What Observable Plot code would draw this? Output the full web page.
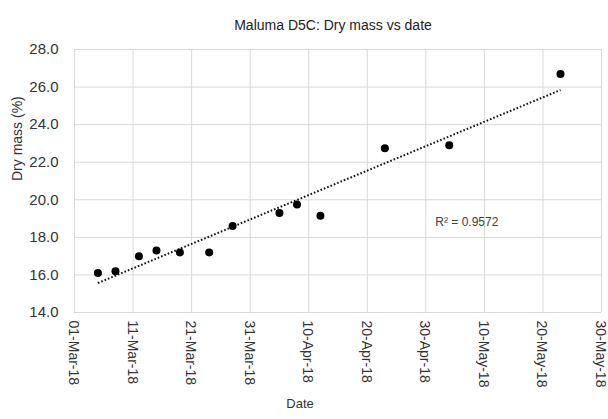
<!DOCTYPE html>
<html>
<head>
<meta charset="utf-8">
<script src="https://cdn.jsdelivr.net/npm/d3@7"></script>
<script src="https://cdn.jsdelivr.net/npm/@observablehq/plot@0.6"></script>
<style>
  html, body { margin: 0; padding: 0; background: #fff; }
  #chart svg { display: block; font-family: "Liberation Sans", Arial, sans-serif; }
</style>
</head>
<body>
<div id="chart"></div>
<script>
// Data
const dates = ["2018-03-05","2018-03-08","2018-03-12","2018-03-15","2018-03-19","2018-03-24","2018-03-28",
               "2018-04-05","2018-04-08","2018-04-12","2018-04-23","2018-05-04","2018-05-23"];
const dryMass = [16.1, 16.2, 17.0, 17.3, 17.2, 17.2, 18.6, 19.3, 19.75, 19.15, 22.75, 22.9, 26.7];
const xTickDates = ["2018-03-01","2018-03-11","2018-03-21","2018-03-31","2018-04-10",
                    "2018-04-20","2018-04-30","2018-05-10","2018-05-20","2018-05-30"];
const xTickLabels = ["01-Mar-18","11-Mar-18","21-Mar-18","31-Mar-18","10-Apr-18",
                     "20-Apr-18","30-Apr-18","10-May-18","20-May-18","30-May-18"];
const yTicks = [14, 16, 18, 20, 22, 24, 26, 28];
const titleText = "Maluma D5C: Dry mass vs date";
const xTitle = "Date";
const yTitle = "Dry mass (%)";
const r2Label = "R² = 0.9572";
const r2Pos = {date: "2018-05-07", value: 18.8};

const data = dates.map((d, i) => ({date: new Date(d), value: dryMass[i]}));
const xTicks = xTickDates.map(d => new Date(d));

const chart = Plot.plot({
  width: 608,
  height: 419,
  marginLeft: 74,
  marginRight: 7,
  marginTop: 49,
  marginBottom: 107,
  style: {fontFamily: "'Liberation Sans', Arial, sans-serif", fontSize: "14px", color: "#333", background: "#fff"},
  x: {type: "utc", domain: [xTicks[0], xTicks[xTicks.length - 1]]},
  y: {domain: [14, 28]},
  marks: [
    Plot.gridX(xTicks, {stroke: "#d9d9d9", strokeOpacity: 1, strokeWidth: 1}),
    Plot.gridY(yTicks, {stroke: "#d9d9d9", strokeOpacity: 1, strokeWidth: 1}),
    Plot.axisX(xTicks, {
      tickSize: 0, tickPadding: 8, tickRotate: 90,
      tickFormat: (d, i) => xTickLabels[i],
      label: null, fontSize: 14, fill: "#333", dx: -1
    }),
    Plot.axisY(yTicks, {
      tickSize: 0, tickPadding: 16, tickFormat: d => d.toFixed(1),
      label: null, fontSize: 15, fill: "#333"
    }),
    Plot.linearRegressionY(data, {x: "date", y: "value", ci: 0, stroke: "#111", strokeWidth: 2, strokeDasharray: "1.6,2", strokeLinecap: "butt"}),
    Plot.dot(data, {x: "date", y: "value", r: 4, fill: "#000", stroke: "none"}),
    Plot.text([r2Label], {x: () => new Date(r2Pos.date), y: () => r2Pos.value, text: d => d, fontSize: 12, fill: "#404040"}),
    Plot.text([titleText], {frameAnchor: "top", dx: -5, dy: -29, fontSize: 14, fill: "#222"}),
    Plot.text([xTitle], {frameAnchor: "bottom", dx: -38, dy: 95, fontSize: 13, fill: "#333"}),
    Plot.text([yTitle], {frameAnchor: "left", dx: -57, rotate: -90, fontSize: 14, fill: "#333"})
  ]
});
document.getElementById("chart").appendChild(chart);
</script>
</body>
</html>
